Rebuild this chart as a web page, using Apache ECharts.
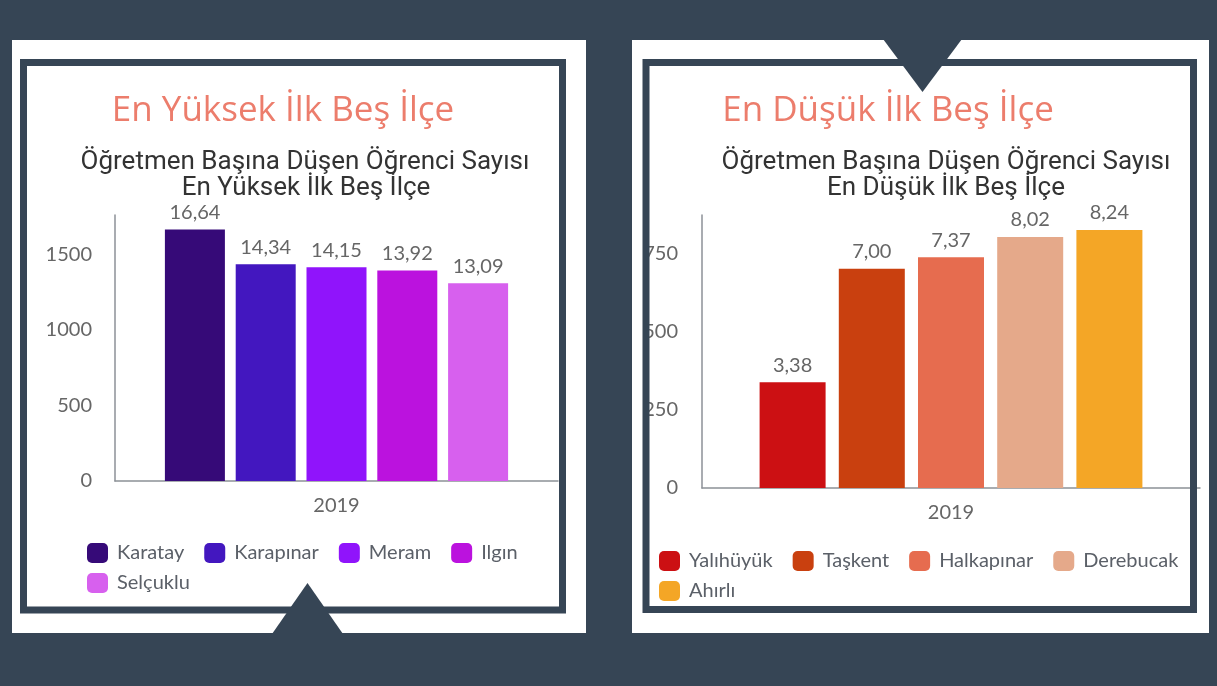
<!DOCTYPE html>
<html lang="tr">
<head>
<meta charset="utf-8">
<title>Öğretmen Başına Düşen Öğrenci Sayısı</title>
<script src="https://cdn.jsdelivr.net/npm/echarts@6/dist/echarts.min.js"></script>
<style>
  html, body { margin: 0; padding: 0; background: #364555; }
  #chart { width: 1217px; height: 686px; }
</style>
</head>
<body>
<div id="chart"></div>
<script>
// values are plotted as x100 (that is how the source axis reads), labels show /100
const years = ['2019'];
const highNames = ['Karatay', 'Karapınar', 'Meram', 'Ilgın', 'Selçuklu'];
const highValues = [1664, 1434, 1415, 1392, 1309];
const highColors = ['#360a78', '#4317bf', '#9014fb', '#bb12de', '#d760ee'];
const lowNames = ['Yalıhüyük', 'Taşkent', 'Halkapınar', 'Derebucak', 'Ahırlı'];
const lowValues = [338, 700, 737, 802, 824];
const lowColors = ['#cc1013', '#c9400f', '#e66c4f', '#e5a98a', '#f4a626'];

const dark = '#364555';
const fmt = p => (p.value / 100).toFixed(2).replace('.', ',');

function makeSeries(names, values, colors, idx, barWidth, gap) {
  return names.map((n, i) => ({
    name: n,
    type: 'bar',
    xAxisIndex: idx,
    yAxisIndex: idx,
    data: [values[i]],
    barWidth: barWidth,
    barGap: gap,
    itemStyle: { color: colors[i] },
    label: {
      show: true, position: 'top', distance: 7,
      formatter: fmt,
      fontFamily: 'Lato', fontSize: 20, color: '#666'
    }
  }));
}

function axisStyle() {
  return {
    axisLine: { show: true, lineStyle: { color: '#8c9197', width: 1.5 } },
    axisTick: { show: false },
    splitLine: { show: false }
  };
}

function frame(x1, y1, x2, y2) {
  return {
    type: 'rect', z: 100,
    shape: { x: x1, y: y1, width: x2 - x1, height: y2 - y1 },
    style: { fill: null, stroke: dark, lineWidth: 7 }
  };
}

function txt(x, y, text, font, fill) {
  return {
    type: 'text', x: x, y: y, z: 50,
    style: { text: text, font: font, fill: fill, textAlign: 'center', textVerticalAlign: 'middle' }
  };
}

const headFont = '35px "Open Sans"';
const subFont = '26px Roboto';
const headColor = '#ec7d6c';
const subColor = '#333';
const tickLabel = { fontFamily: 'Lato', fontSize: 20, color: '#666', showMaxLabel: false, formatter: v => String(v) };
const legendText = { fontFamily: 'Lato', fontSize: 20, color: '#5b6068', padding: [0, 10, 0, 4], lineHeight: 20 };

const chart = echarts.init(document.getElementById('chart'));
chart.setOption({
  backgroundColor: dark,
  animation: false,
  graphic: [
    { type: 'rect', z: -10, shape: { x: 12, y: 40, width: 574, height: 593 }, style: { fill: '#fff' } },
    { type: 'rect', z: -10, shape: { x: 632, y: 40, width: 577, height: 593 }, style: { fill: '#fff' } },
    frame(23.5, 62.5, 562.5, 610),
    frame(646, 62.5, 1193.5, 609.5),
    { type: 'polygon', z: 101, shape: { points: [[272, 634], [343, 634], [307.5, 583]] }, style: { fill: dark } },
    { type: 'polygon', z: 101, shape: { points: [[883, 39], [962, 39], [922.5, 92]] }, style: { fill: dark } },
    txt(283, 111, 'En Yüksek İlk Beş İlçe', headFont, headColor),
    txt(305, 162, 'Öğretmen Başına Düşen Öğrenci Sayısı', subFont, subColor),
    txt(306, 188, 'En Yüksek İlk Beş İlçe', subFont, subColor),
    txt(888, 111, 'En Düşük İlk Beş İlçe', headFont, headColor),
    txt(946, 162, 'Öğretmen Başına Düşen Öğrenci Sayısı', subFont, subColor),
    txt(946, 188, 'En Düşük İlk Beş İlçe', subFont, subColor)
  ],
  grid: [
    { left: 115, right: 659, top: 215, bottom: 205 },
    { left: 702, right: 17, top: 215, bottom: 198 }
  ],
  xAxis: [0, 1].map(i => Object.assign({
    type: 'category', gridIndex: i, data: years,
    axisLabel: { margin: 15, fontFamily: 'Lato', fontSize: 20, color: '#666' }
  }, axisStyle())),
  yAxis: [
    Object.assign({
      type: 'value', gridIndex: 0, min: 0, max: 1760, interval: 500,
      axisLabel: Object.assign({ margin: 23 }, tickLabel)
    }, axisStyle()),
    Object.assign({
      type: 'value', gridIndex: 1, min: 0, max: 872, interval: 250,
      axisLabel: Object.assign({ margin: 24 }, tickLabel)
    }, axisStyle())
  ],
  legend: [
    {
      data: highNames, left: 87, top: 543, width: 450, padding: 0,
      icon: 'roundRect', itemWidth: 21, itemHeight: 20, itemGap: 10,
      textStyle: legendText
    },
    {
      data: lowNames, left: 659, top: 551, width: 540, padding: 0,
      icon: 'roundRect', itemWidth: 21, itemHeight: 20, itemGap: 10,
      textStyle: legendText
    }
  ],
  series: makeSeries(highNames, highValues, highColors, 0, 60, '18%')
    .concat(makeSeries(lowNames, lowValues, lowColors, 1, 66, '20%'))
});
</script>
</body>
</html>
